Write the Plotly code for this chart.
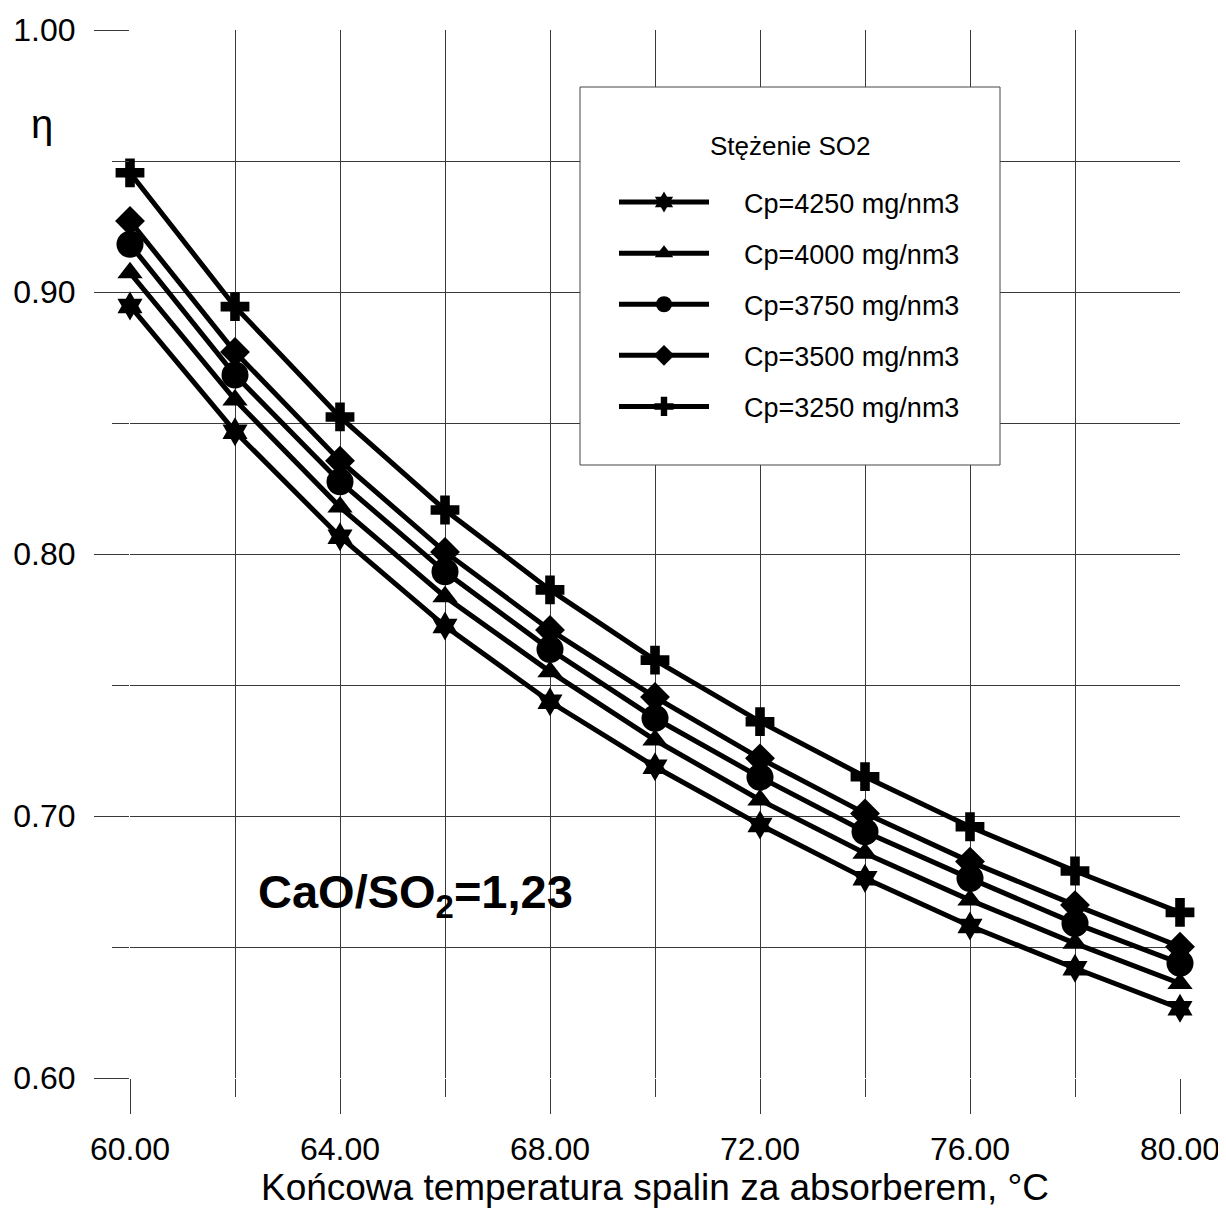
import plotly.graph_objects as go

# ---- data ----
temperature = [60, 62, 64, 66, 68, 70, 72, 74, 76, 78, 80]

series_names = ["Cp=4250 mg/nm3", "Cp=4000 mg/nm3", "Cp=3750 mg/nm3",
                "Cp=3500 mg/nm3", "Cp=3250 mg/nm3"]

eta_4250 = [0.8947, 0.8467, 0.8066, 0.7725, 0.7436, 0.7188, 0.6966, 0.6762, 0.6580, 0.6419, 0.6266]
eta_4000 = [0.9073, 0.8588, 0.8179, 0.7837, 0.7551, 0.7290, 0.7061, 0.6858, 0.6679, 0.6514, 0.6361]
eta_3750 = [0.9182, 0.8683, 0.8276, 0.7932, 0.7636, 0.7373, 0.7148, 0.6940, 0.6762, 0.6590, 0.6438]
eta_3500 = [0.9271, 0.8771, 0.8356, 0.8008, 0.7710, 0.7454, 0.7220, 0.7010, 0.6826, 0.6660, 0.6501]
eta_3250 = [0.9455, 0.8944, 0.8523, 0.8168, 0.7863, 0.7595, 0.7360, 0.7150, 0.6959, 0.6790, 0.6632]

series_values = [eta_4250, eta_4000, eta_3750, eta_3500, eta_3250]

x_tick_values = [60, 64, 68, 72, 76, 80]
x_tick_labels = ["60.00", "64.00", "68.00", "72.00", "76.00", "80.00"]
y_tick_values = [0.6, 0.7, 0.8, 0.9, 1.0]
y_tick_labels = ["0.60", "0.70", "0.80", "0.90", "1.00"]

# ---- styles ----
symbols = ["hexagram", "triangle-up", "circle", "diamond", "cross"]
sizes = [22, 22, 27, 23, 24]
FONT = "Arial, Liberation Sans, sans-serif"
GRID = "#3a3a3a"
PAD = "&nbsp;" * 4

fig = go.Figure()
for name, vals, sym, sz in zip(series_names, series_values, symbols, sizes):
    fig.add_trace(go.Scatter(
        x=temperature, y=vals, name=PAD + name, mode="lines+markers",
        legendgroup=name, cliponaxis=False,
        line=dict(color="black", width=5),
        marker=dict(symbol=sym, size=sz, color="black", line=dict(width=0)),
    ))

# the page body adds an 8 px margin around the figure
OFF = 8
W, H = 1226 - OFF, 1213 - OFF
PLOT_L, PLOT_R, PLOT_T, PLOT_B = 130, 1180, 30, 1078   # page pixels
L, T = PLOT_L - OFF, PLOT_T - OFF
R, B = W - (PLOT_R - OFF), H - (PLOT_B - OFF)
PW, PH = PLOT_R - PLOT_L, PLOT_B - PLOT_T


def px_x(p):
    return (p - PLOT_L) / PW


def px_y(p):
    return (PLOT_B - p) / PH


fig.update_layout(
    width=W, height=H,
    margin=dict(l=L, r=R, t=T, b=B, autoexpand=False),
    paper_bgcolor="white", plot_bgcolor="white",
    font=dict(family=FONT, color="black"),
    showlegend=True,
    legend=dict(
        x=px_x(614), y=px_y(178), xanchor="left", yanchor="top",
        bgcolor="rgba(0,0,0,0)", borderwidth=0,
        font=dict(size=27, family=FONT),
        itemwidth=90, itemsizing="trace",
        traceorder="grouped", tracegroupgap=13,
    ),
    xaxis=dict(
        range=[60, 80], showline=False, zeroline=False, automargin=False,
        tickmode="array", tickvals=x_tick_values, ticktext=x_tick_labels,
        ticks="outside", ticklen=35, tickwidth=1, tickcolor=GRID,
        showgrid=True, gridcolor=GRID, gridwidth=1,
        minor=dict(dtick=2, tick0=60, ticks="outside", ticklen=18, tickcolor=GRID,
                   showgrid=True, gridcolor=GRID, gridwidth=1),
        tickfont=dict(size=32, family=FONT),
        ticklabelstandoff=8, ticklabeloverflow="allow",
        title=dict(text="Końcowa temperatura spalin za absorberem, °C",
                   font=dict(size=37, family=FONT), standoff=5),
    ),
    yaxis=dict(
        range=[0.6, 1.0], showline=False, zeroline=False, automargin=False,
        tickmode="array", tickvals=y_tick_values, ticktext=y_tick_labels,
        ticks="outside", ticklen=35, tickwidth=1, tickcolor=GRID,
        showgrid=True, gridcolor=GRID, gridwidth=1,
        minor=dict(dtick=0.05, tick0=0.6, ticks="outside", ticklen=17, tickcolor=GRID,
                   showgrid=True, gridcolor=GRID, gridwidth=1),
        tickfont=dict(size=32, family=FONT),
        ticklabelstandoff=12,
    ),
    shapes=[dict(
        type="rect", xref="paper", yref="paper", layer="above",
        x0=px_x(580), x1=px_x(1000), y0=px_y(465), y1=px_y(87),
        fillcolor="white", line=dict(color="#444", width=1),
    )],
    annotations=[
        dict(text="Stężenie SO2", xref="paper", yref="paper", x=px_x(790), y=px_y(146),
             showarrow=False, font=dict(size=26, family=FONT), xanchor="center", yanchor="middle"),
        dict(text="η", xref="paper", yref="paper", x=px_x(42), y=px_y(124),
             showarrow=False, font=dict(size=40, family=FONT), xanchor="center", yanchor="middle"),
        dict(text="<b>CaO/SO<sub>2</sub>=1,23</b>", xref="paper", yref="paper",
             x=px_x(256), y=px_y(895), showarrow=False,
             font=dict(size=47, family=FONT), xanchor="left", yanchor="middle"),
    ],
)

fig.write_html("out.html")
